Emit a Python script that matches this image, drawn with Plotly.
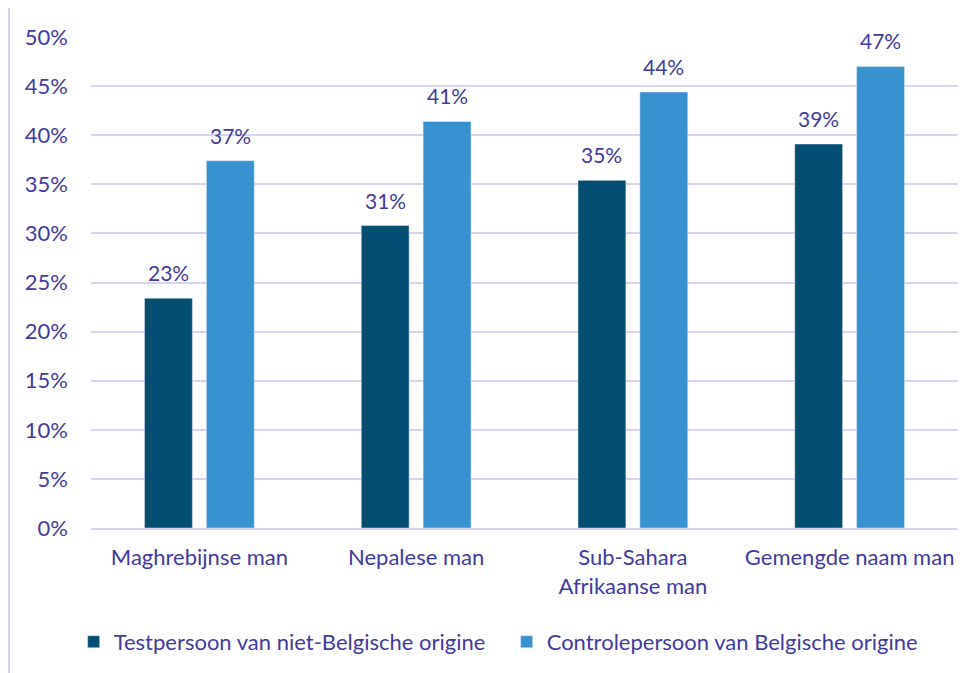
import plotly.graph_objects as go

categories = ["Maghrebijnse man", "Nepalese man", "Sub-Sahara<br>Afrikaanse man", "Gemengde naam man"]
series_names = ["Testpersoon van niet-Belgische origine", "Controlepersoon van Belgische origine"]
test_values = [23.4, 30.8, 35.4, 39.1]
control_values = [37.4, 41.4, 44.4, 47.0]
tick_vals = [0, 5, 10, 15, 20, 25, 30, 35, 40, 45, 50]
tick_text = [f"{v}%" for v in tick_vals]

TEXT = "#3f3a9e"
GRID = "#d6d3f0"
DARK = "#044e71"
LIGHT = "#3792cf"
FONT = "Lato"
FS = 22

fig = go.Figure()
fig.add_trace(go.Bar(x=categories, y=test_values, name=series_names[0], marker_color=DARK))
fig.add_trace(go.Bar(x=categories, y=control_values, name=series_names[1], marker_color=LIGHT))

for vals, shift in ((test_values, -31), (control_values, 31)):
    for c, v in zip(categories, vals):
        fig.add_annotation(x=c, y=v, text=f"{round(v)}%", showarrow=False,
                           xshift=shift, yshift=11, yanchor="bottom",
                           font=dict(family=FONT, size=FS - 1, color=TEXT))

fig.add_shape(type="line", xref="paper", yref="paper", x0=-0.0946, x1=-0.0946, y0=-0.35, y1=1.1,
              line=dict(color=GRID, width=2))

fig.update_layout(
    width=976, height=673,
    margin=dict(l=83, r=26, t=29, b=153),
    plot_bgcolor="white", paper_bgcolor="white",
    barmode="group", bargap=0.429, bargroupgap=0.226,
    font=dict(family=FONT, size=FS, color=TEXT),
    showlegend=True,
    legend=dict(orientation="h", x=-0.02, xanchor="left", y=-0.232, yanchor="middle",
                entrywidth=388, entrywidthmode="pixels",
                font=dict(family=FONT, size=FS, color=TEXT), traceorder="normal"),
    xaxis=dict(showgrid=False, showline=True, linecolor=GRID, linewidth=2, ticks="",
               ticklabelstandoff=9, tickfont=dict(family=FONT, size=FS, color=TEXT)),
    yaxis=dict(range=[0, 50], tickvals=tick_vals, ticktext=tick_text, showgrid=True,
               gridcolor=GRID, gridwidth=2, zeroline=False, showline=False,
               ticklabelstandoff=22, tickfont=dict(family=FONT, size=FS, color=TEXT)),
)

fig.write_html("out.html")
